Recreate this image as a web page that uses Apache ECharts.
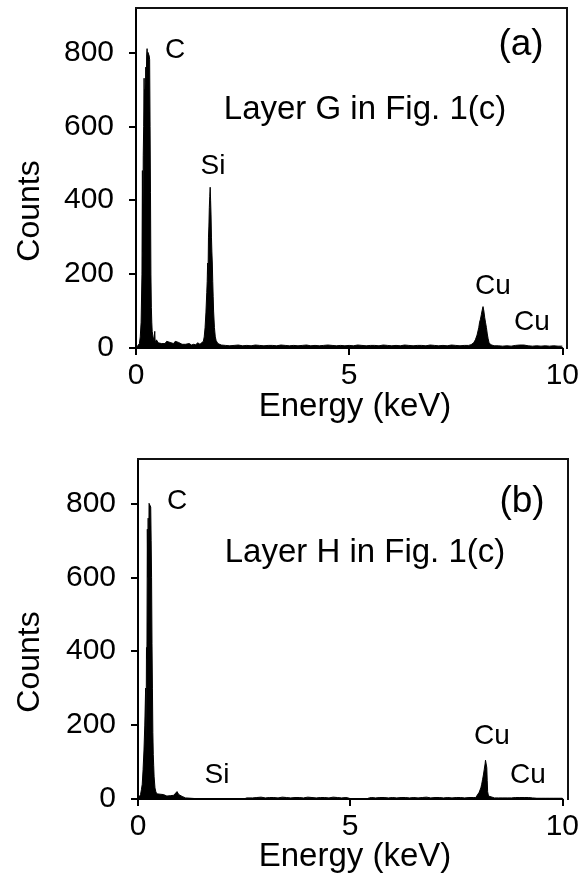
<!DOCTYPE html>
<html>
<head>
<meta charset="utf-8">
<script src="https://cdn.jsdelivr.net/npm/echarts@6/dist/echarts.min.js"></script>
<style>
  html, body { margin: 0; padding: 0; background: #fff; }
  #chart { width: 582px; height: 877px; }
</style>
</head>
<body>
<div id="chart"></div>
<script>
// panel (a): layer G
const energyA = [
  0.00, 0.04, 0.08, 0.10, 0.12, 0.14, 0.15, 0.16, 0.17, 0.18,
  0.19, 0.20, 0.21, 0.22, 0.23, 0.24, 0.25, 0.26, 0.27, 0.28,
  0.29, 0.30, 0.31, 0.32, 0.33, 0.34, 0.35, 0.36, 0.37, 0.38,
  0.40, 0.42, 0.44, 0.45, 0.48, 0.52, 0.56, 0.60, 0.64, 0.68,
  0.72, 0.76, 0.80, 0.84, 0.88, 0.92, 0.96, 1.00, 1.04, 1.08,
  1.12, 1.16, 1.20, 1.25, 1.30, 1.35, 1.40, 1.45, 1.50, 1.54,
  1.58, 1.60, 1.62, 1.64, 1.66, 1.67, 1.68, 1.69, 1.70, 1.71,
  1.72, 1.73, 1.74, 1.75, 1.76, 1.77, 1.78, 1.79, 1.80, 1.81,
  1.82, 1.84, 1.86, 1.88, 1.92, 1.96, 2.0, 2.1, 2.2, 2.3,
  2.4, 2.5, 2.6, 2.7, 2.8, 2.9, 3.0, 3.1, 3.2, 3.3,
  3.4, 3.5, 3.6, 3.7, 3.8, 3.9, 4.0, 4.1, 4.2, 4.3,
  4.4, 4.5, 4.6, 4.7, 4.8, 4.9, 5.0, 5.1, 5.2, 5.3,
  5.4, 5.5, 5.6, 5.7, 5.8, 5.9, 6.0, 6.1, 6.2, 6.3,
  6.4, 6.5, 6.6, 6.7, 6.8, 6.9, 7.0, 7.1, 7.2, 7.3,
  7.4, 7.5, 7.6, 7.7, 7.80, 7.86, 7.92, 7.96, 8.00, 8.04,
  8.06, 8.08, 8.10, 8.12, 8.14, 8.16, 8.18, 8.20, 8.22, 8.24,
  8.26, 8.28, 8.32, 8.40, 8.50, 8.60, 8.70, 8.80, 8.90, 9.00,
  9.10, 9.20, 9.30, 9.40, 9.50, 9.60, 9.70, 9.80, 9.90, 10.00
];
const countsA = [
  0, 4, 12, 30, 70, 200, 480, 260, 520, 600,
  730, 640, 700, 680, 760, 720, 790, 810, 780, 800,
  800, 795, 790, 780, 600, 420, 200, 110, 70, 45,
  30, 20, 45, 15, 22, 14, 18, 12, 16, 12,
  18, 13, 15, 20, 12, 18, 22, 15, 12, 10,
  14, 10, 9, 12, 8, 10, 9, 14, 10, 12,
  18, 30, 55, 95, 150, 180, 230, 200, 300, 330,
  380, 410, 435, 400, 360, 300, 260, 230, 180, 140,
  100, 55, 30, 20, 12, 9, 8, 7, 6, 7,
  8, 6, 7, 6, 8, 7, 6, 7, 7, 6,
  8, 7, 6, 7, 6, 7, 8, 6, 7, 6,
  7, 8, 7, 6, 7, 6, 7, 6, 8, 7,
  6, 7, 7, 6, 8, 7, 6, 7, 6, 8,
  7, 6, 7, 7, 6, 8, 7, 6, 7, 6,
  8, 7, 6, 7, 7, 9, 14, 22, 35, 55,
  70, 78, 90, 102, 112, 100, 82, 68, 55, 38,
  25, 15, 9, 6, 6, 5, 6, 5, 7, 8,
  8, 6, 5, 6, 5, 6, 5, 6, 5, 5
];

// panel (b): layer H
const energyB = [
  0.00, 0.04, 0.06, 0.08, 0.10, 0.12, 0.14, 0.16, 0.18, 0.19,
  0.20, 0.21, 0.22, 0.23, 0.24, 0.25, 0.26, 0.27, 0.28, 0.29,
  0.30, 0.31, 0.32, 0.33, 0.34, 0.35, 0.36, 0.37, 0.38, 0.40,
  0.42, 0.44, 0.48, 0.52, 0.56, 0.60, 0.64, 0.68, 0.72, 0.76,
  0.80, 0.84, 0.88, 0.92, 0.96, 1.00, 1.04, 1.08, 1.12, 1.16,
  1.5, 2.0, 2.5, 2.56, 2.6, 2.7, 2.8, 2.9, 3.0, 3.1,
  3.2, 3.3, 3.4, 3.5, 3.6, 3.7, 3.8, 3.9, 4.0, 4.1,
  4.2, 4.3, 4.4, 4.5, 4.6, 4.7, 4.8, 4.9, 4.95, 5.0,
  5.2, 5.4, 5.45, 5.5, 5.6, 5.7, 5.8, 5.9, 6.0, 6.1,
  6.2, 6.3, 6.4, 6.5, 6.6, 6.7, 6.8, 6.9, 7.0, 7.1,
  7.2, 7.3, 7.4, 7.5, 7.6, 7.7, 7.8, 7.9, 7.96, 8.00,
  8.04, 8.08, 8.10, 8.12, 8.14, 8.16, 8.18, 8.19, 8.20, 8.21,
  8.22, 8.23, 8.24, 8.26, 8.30, 8.40, 8.50, 8.60, 8.70, 8.80,
  8.90, 9.00, 9.10, 9.20, 9.30, 9.40, 9.50, 9.60, 9.70, 9.80,
  9.90, 10.00
];
const countsB = [
  0, 5, 12, 25, 40, 80, 130, 200, 300, 150,
  410, 380, 730, 600, 760, 580, 800, 805, 800, 800,
  790, 700, 600, 420, 300, 180, 120, 90, 60, 30,
  20, 14, 10, 13, 9, 12, 10, 8, 11, 9,
  12, 10, 14, 20, 12, 9, 7, 5, 3, 0,
  0, 0, 0, 3, 4, 3, 4, 5, 3, 4,
  4, 3, 5, 4, 3, 4, 4, 3, 5, 4,
  3, 4, 4, 3, 5, 4, 3, 4, 3, 1,
  1, 1, 3, 4, 3, 4, 4, 3, 4, 3,
  4, 4, 3, 4, 3, 4, 5, 3, 4, 4,
  3, 4, 3, 4, 4, 3, 4, 4, 4, 8,
  18, 30, 40, 52, 65, 80, 95, 105, 100, 104,
  85, 50, 20, 8, 5, 3, 3, 3, 3, 3,
  4, 4, 4, 4, 3, 2, 2, 2, 2, 2,
  2, 2
];

const yTicks = [0, 200, 400, 600, 800];
const xTicks = [0, 5, 10];

const FONT = '"Liberation Sans", Arial, sans-serif';

// plot boxes (px)
const boxA = { left: 136, top: 8, width: 431, height: 340 };
const boxB = { left: 138, top: 459, width: 430, height: 340 };

function pairs(xs, ys) {
  return xs.map((x, i) => [x, ys[i]]);
}

function xAxisOf(idx) {
  return {
    type: 'value', gridIndex: idx, min: 0, max: 10, position: 'bottom',
    axisLine: { show: true, onZero: false, lineStyle: { color: '#000', width: 2 } },
    axisTick: { show: true, inside: false, length: 7, customValues: xTicks, lineStyle: { color: '#000', width: 2 } },
    axisLabel: { customValues: xTicks, color: '#000', fontSize: 30, fontFamily: FONT, margin: 13 },
    splitLine: { show: false }
  };
}

function yAxisOf(idx) {
  return {
    type: 'value', gridIndex: idx, min: 0, max: 920, position: 'left',
    axisLine: { show: true, lineStyle: { color: '#000', width: 2 } },
    axisTick: { show: true, inside: false, length: 7, customValues: yTicks, lineStyle: { color: '#000', width: 2 } },
    axisLabel: { customValues: yTicks, color: '#000', fontSize: 30, fontFamily: FONT, margin: 22 },
    splitLine: { show: false }
  };
}

function spectrum(idx, xs, ys) {
  return {
    type: 'line', xAxisIndex: idx, yAxisIndex: idx,
    data: pairs(xs, ys),
    showSymbol: false, symbol: 'none', animation: false,
    lineStyle: { color: '#000', width: 1 },
    areaStyle: { color: '#000', opacity: 1 }
  };
}

// top and right edges of a plot box, as thin filled rects
function frame(b) {
  return [
    { type: 'rect', z: 5, silent: true, shape: { x: b.left - 1, y: b.top - 1, width: b.width + 2, height: 2 }, style: { fill: '#111' } },
    { type: 'rect', z: 5, silent: true, shape: { x: b.left + b.width - 1, y: b.top - 1, width: 2, height: b.height + 2 }, style: { fill: '#111' } }
  ];
}

function txt(s, x, y, size, rot) {
  return {
    type: 'text', x: x, y: y, rotation: rot || 0, z: 10,
    style: { text: s, fill: '#000', font: size + 'px ' + FONT, align: 'center', verticalAlign: 'middle' }
  };
}

const chart = echarts.init(document.getElementById('chart'));
chart.setOption({
  backgroundColor: '#fff',
  animation: false,
  grid: [boxA, boxB],
  xAxis: [xAxisOf(0), xAxisOf(1)],
  yAxis: [yAxisOf(0), yAxisOf(1)],
  series: [spectrum(0, energyA, countsA), spectrum(1, energyB, countsB)],
  graphic: frame(boxA).concat(frame(boxB), [
    txt('Counts', 30, 211, 32, Math.PI / 2),
    txt('Energy (keV)', 355, 407, 33),
    txt('C', 175, 50, 28),
    txt('(a)', 521, 45, 37),
    txt('Layer G in Fig. 1(c)', 365, 110, 33),
    txt('Si', 213, 166, 28),
    txt('Cu', 493, 286, 28),
    txt('Cu', 532, 322, 28),

    txt('Counts', 30, 662, 32, Math.PI / 2),
    txt('Energy (keV)', 355, 857, 33),
    txt('C', 177, 501, 28),
    txt('(b)', 522, 502, 37),
    txt('Layer H in Fig. 1(c)', 365, 553, 33),
    txt('Si', 217, 775, 28),
    txt('Cu', 492, 736, 28),
    txt('Cu', 528, 775, 28)
  ])
});
</script>
</body>
</html>
